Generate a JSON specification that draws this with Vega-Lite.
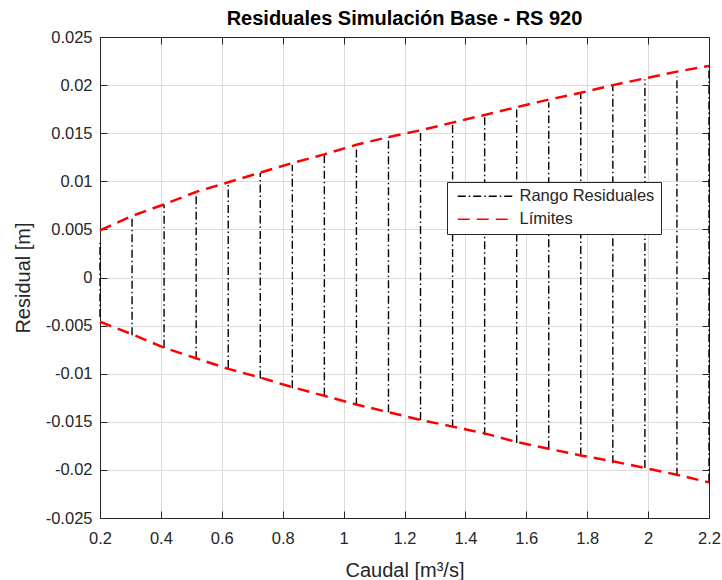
{
  "$schema": "https://vega.github.io/schema/vega-lite/v6.json",
  "autosize": {"type": "none"},
  "padding": {"left": 100, "top": 37, "right": 13, "bottom": 62},
  "width": 609,
  "height": 481,
  "background": "white",
  "title": {
    "text": "Residuales Simulación Base - RS 920",
    "font": "Liberation Sans",
    "fontSize": 20,
    "fontWeight": "bold",
    "color": "#000000",
    "anchor": "middle",
    "baseline": "alphabetic",
    "offset": 10,
    "dy": 26
  },
  "config": {
    "view": {"stroke": null},
    "axis": {
      "labelFont": "Liberation Sans",
      "labelFontSize": 16.5,
      "labelColor": "#262626",
      "titleFont": "Liberation Sans",
      "titleFontSize": 20,
      "titleFontWeight": "normal",
      "titleColor": "#262626",
      "domainColor": "#262626",
      "domainWidth": 1,
      "tickColor": "#262626",
      "tickWidth": 1,
      "gridColor": "#dcdcdc",
      "gridWidth": 1
    }
  },
  "datasets": {
    "rango": [
      {"q": 0.2, "lo": -0.0041, "hi": 0.0036},
      {"q": 0.3053, "lo": -0.0060, "hi": 0.0063},
      {"q": 0.4105, "lo": -0.0073, "hi": 0.0076},
      {"q": 0.5158, "lo": -0.0085, "hi": 0.0088},
      {"q": 0.6211, "lo": -0.0094, "hi": 0.0099},
      {"q": 0.7263, "lo": -0.0105, "hi": 0.0109},
      {"q": 0.8316, "lo": -0.0115, "hi": 0.0117},
      {"q": 0.9368, "lo": -0.0123, "hi": 0.0127},
      {"q": 1.0421, "lo": -0.0133, "hi": 0.0136},
      {"q": 1.1474, "lo": -0.0140, "hi": 0.0146},
      {"q": 1.2526, "lo": -0.0148, "hi": 0.0151},
      {"q": 1.3579, "lo": -0.0156, "hi": 0.0160},
      {"q": 1.4632, "lo": -0.0164, "hi": 0.0169},
      {"q": 1.5684, "lo": -0.0172, "hi": 0.0175},
      {"q": 1.6737, "lo": -0.0178, "hi": 0.0182},
      {"q": 1.7789, "lo": -0.0185, "hi": 0.0192},
      {"q": 1.8842, "lo": -0.0193, "hi": 0.0199},
      {"q": 1.9895, "lo": -0.0198, "hi": 0.0206},
      {"q": 2.0947, "lo": -0.0206, "hi": 0.0209},
      {"q": 2.2, "lo": -0.0212, "hi": 0.0219}
    ],
    "lim": [
      {"q": 0.2, "sup": 0.0049, "inf": -0.0046},
      {"q": 0.3053, "sup": 0.0064, "inf": -0.0059},
      {"q": 0.4105, "sup": 0.0076, "inf": -0.0073},
      {"q": 0.5158, "sup": 0.0089, "inf": -0.0084},
      {"q": 0.6211, "sup": 0.0099, "inf": -0.0095},
      {"q": 0.7263, "sup": 0.0109, "inf": -0.0104},
      {"q": 0.8316, "sup": 0.0119, "inf": -0.0114},
      {"q": 0.9368, "sup": 0.0128, "inf": -0.0123},
      {"q": 1.0421, "sup": 0.0138, "inf": -0.0132},
      {"q": 1.1474, "sup": 0.0146, "inf": -0.0140},
      {"q": 1.2526, "sup": 0.0153, "inf": -0.0148},
      {"q": 1.3579, "sup": 0.0161, "inf": -0.0155},
      {"q": 1.4632, "sup": 0.0169, "inf": -0.0162},
      {"q": 1.5684, "sup": 0.0177, "inf": -0.0171},
      {"q": 1.6737, "sup": 0.0185, "inf": -0.0178},
      {"q": 1.7789, "sup": 0.0192, "inf": -0.0185},
      {"q": 1.8842, "sup": 0.0200, "inf": -0.0191},
      {"q": 1.9895, "sup": 0.0207, "inf": -0.0198},
      {"q": 2.0947, "sup": 0.0214, "inf": -0.0205},
      {"q": 2.2, "sup": 0.0220, "inf": -0.0213}
    ]
  },
  "resolve": {"axis": {"x": "independent", "y": "independent"}},
  "layer": [
    {
      "data": {"name": "rango"},
      "mark": {"type": "rule"},
      "encoding": {
        "x": {
          "field": "q", "type": "quantitative",
          "scale": {"domain": [0.2, 2.2], "nice": false, "zero": false},
          "axis": {"title": "Caudal [m³/s]", "values": [0.2,0.4,0.6,0.8,1,1.2,1.4,1.6,1.8,2,2.2], "labelExpr": "datum.value == 1 ? '1' : datum.value == 2 ? '2' : format(datum.value, '.1f')", "tickSize": -7, "labelPadding": 19.5, "titlePadding": 13, "grid": true, "labelFlush": false, "labelOverlap": false}
        },
        "y": {
          "field": "lo", "type": "quantitative",
          "scale": {"domain": [-0.025, 0.025], "nice": false, "zero": false},
          "axis": {"title": "Residual [m]", "values": [-0.025,-0.02,-0.015,-0.01,-0.005,0,0.005,0.01,0.015,0.02,0.025], "labelExpr": "datum.value == 0 ? '0' : replace(format(datum.value, '.3~f'), '−', '-')", "tickSize": -7, "labelPadding": 15, "titlePadding": 12, "grid": true, "labelFlush": false, "labelOverlap": false}
        },
        "y2": {"field": "hi"},
        "color": {
          "datum": "Rango Residuales", "type": "nominal",
          "scale": {"domain": ["Rango Residuales", "Límites"], "range": ["#000000", "#ff0000"]},
          "legend": {
            "title": null,
            "orient": "none",
            "legendX": 347,
            "legendY": 145,
            "fillColor": "white",
            "strokeColor": "#262626",
            "padding": 6,
            "labelFont": "Liberation Sans",
            "labelFontSize": 16.5,
            "labelColor": "#262626",
            "symbolType": "M-5.7,0H5.7",
            "symbolSize": 100,
            "symbolOffset": 25,
            "labelOffset": 25,
            "rowPadding": 6
          }
        },
        "strokeDash": {
          "datum": "Rango Residuales", "type": "nominal",
          "scale": {"domain": ["Rango Residuales", "Límites"], "range": [[8, 3, 1.5, 3], [12, 7]]},
          "legend": {"title": null}
        },
        "strokeWidth": {
          "datum": "Rango Residuales", "type": "nominal",
          "scale": {"type": "ordinal", "domain": ["Rango Residuales", "Límites"], "range": [1.4, 3]},
          "legend": {"title": null}
        }
      }
    },
    {
      "data": {"name": "lim"},
      "mark": {"type": "line"},
      "encoding": {
        "x": {"field": "q", "type": "quantitative", "axis": {"orient": "top", "title": null, "labels": false, "grid": false, "tickSize": -7, "values": [0.2,0.4,0.6,0.8,1,1.2,1.4,1.6,1.8,2,2.2]}},
        "y": {"field": "sup", "type": "quantitative", "axis": {"orient": "right", "title": null, "labels": false, "grid": false, "tickSize": -7, "values": [-0.025,-0.02,-0.015,-0.01,-0.005,0,0.005,0.01,0.015,0.02,0.025]}},
        "color": {"datum": "Límites", "type": "nominal"},
        "strokeDash": {"datum": "Límites", "type": "nominal"},
        "strokeWidth": {"datum": "Límites", "type": "nominal"}
      }
    },
    {
      "data": {"name": "lim"},
      "mark": {"type": "line"},
      "encoding": {
        "x": {"field": "q", "type": "quantitative", "axis": null},
        "y": {"field": "inf", "type": "quantitative", "axis": null},
        "color": {"datum": "Límites", "type": "nominal"},
        "strokeDash": {"datum": "Límites", "type": "nominal"},
        "strokeWidth": {"datum": "Límites", "type": "nominal"}
      }
    }
  ]
}
